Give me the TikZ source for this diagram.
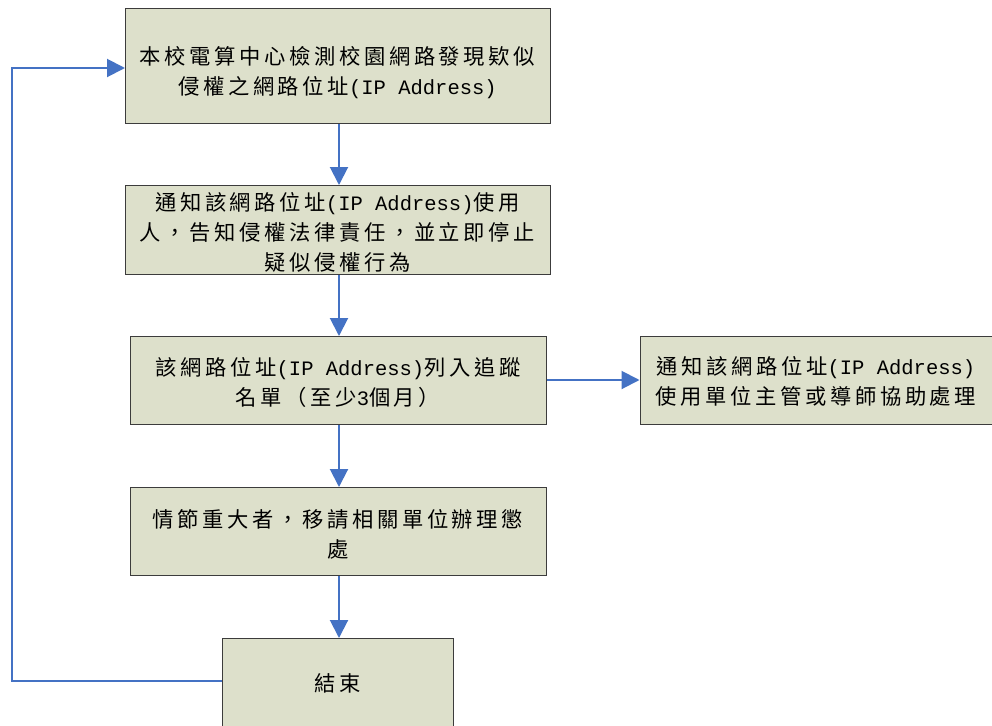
\documentclass[tikz,border=0pt]{standalone}
\usepackage{fontspec}
\setmainfont{Noto Sans CJK TC}[LetterSpace=17]
\newfontfamily\latfont{Liberation Mono}
\newcommand{\lt}[1]{{\latfont\fontsize{20.5}{30}\selectfont #1}}
\usetikzlibrary{arrows.meta}
\definecolor{boxfill}{HTML}{DDE0CB}
\definecolor{boxline}{HTML}{3C3C3C}
\definecolor{flow}{HTML}{4472C4}
\begin{document}
\begin{tikzpicture}[x=1pt,y=-1pt,
  box/.style={draw=boxline, line width=1.2pt, fill=boxfill, inner sep=0pt, anchor=north west},
  txt/.style={inner sep=0pt, align=center, font=\fontsize{21.3}{30}\selectfont},
  flowline/.style={draw=flow, line width=2pt},
  flowarrow/.style={flowline, -{Triangle[length=18pt,width=18pt]}}]
\useasboundingbox (0,0) rectangle (992,725);
\clip (0,0) rectangle (992,725);
\fill[white] (0,0) rectangle (992,725);

\node[box, minimum width=425pt, minimum height=115pt] (b1) at (125,8) {};
\node[txt] (t1) at (337.5,73) {本校電算中心檢測校園網路發現欵似\\侵權之網路位址\lt{(IP Address)}};

\node[box, minimum width=425pt, minimum height=89pt] (b2) at (125,185) {};
\node[txt] (t2) at (337.5,232) {通知該網路位址\lt{(IP Address)}使用\\人，告知侵權法律責任，並立即停止\\疑似侵權行為};

\node[box, minimum width=416pt, minimum height=88pt] (b3) at (130,336) {};
\node[txt] (t3) at (338,382) {該網路位址\lt{(IP Address)}列入追蹤\\名單（至少\lt{3}個月）};

\node[box, minimum width=353pt, minimum height=88pt] (b6) at (639.5,336) {};
\node[txt] (t6) at (816,381) {通知該網路位址\lt{(IP Address)}\\使用單位主管或導師協助處理};

\node[box, minimum width=416pt, minimum height=88pt] (b4) at (130,487) {};
\node[txt] (t4) at (338,534) {情節重大者，移請相關單位辦理懲\\處};

\node[box, minimum width=231pt, minimum height=110pt] (b5) at (222,638) {};
\node[txt] (t5) at (337.5,683) {結束};

\draw[flowarrow] (b1.south -| 339,0) -- (b2.north -| 339,0);
\draw[flowarrow] (b2.south -| 339,0) -- (b3.north -| 339,0);
\draw[flowarrow] (b3.south -| 339,0) -- (b4.north -| 339,0);
\draw[flowarrow] (b4.south -| 339,0) -- (b5.north -| 339,0);
\draw[flowarrow] (b3.east |- 0,380) -- (b6.west |- 0,380);
\draw[flowarrow] (b5.west |- 0,681) -| (12,68) -- (b1.west |- 0,68);
\end{tikzpicture}
\end{document}
